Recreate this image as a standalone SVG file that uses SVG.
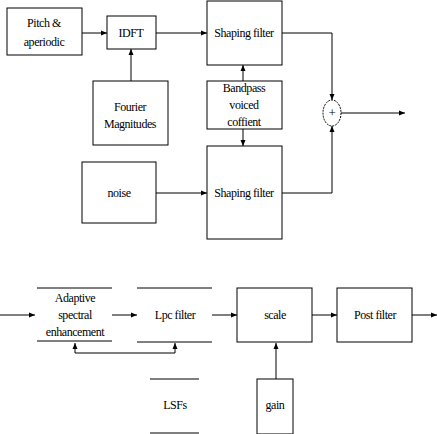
<svg xmlns="http://www.w3.org/2000/svg" width="437" height="434" viewBox="0 0 437 434">
<style>
.b{fill:#fff;stroke:#000;stroke-width:1}
.l{fill:none;stroke:#000;stroke-width:1}
text{font-family:'Liberation Serif','DejaVu Serif',serif;font-size:12px;fill:#000;text-anchor:middle;letter-spacing:-0.45px}
</style>
<defs>
<marker id="a" viewBox="0 0 6 6" refX="6" refY="3" markerWidth="6" markerHeight="6" markerUnits="userSpaceOnUse" orient="auto">
<path d="M0,0.5 L6,3 L0,5.5 Z" fill="#000"/>
</marker>
</defs>
<rect width="437" height="434" fill="#fff"/>
<g id="connectors">
<path class="l" d="M82,33 H107" marker-end="url(#a)"/>
<path class="l" d="M156,33 H207" marker-end="url(#a)"/>
<path class="l" d="M131,81 V49" marker-end="url(#a)"/>
<path class="l" d="M243,81 V65" marker-end="url(#a)"/>
<path class="l" d="M243,129 V146" marker-end="url(#a)"/>
<path class="l" d="M156,193 H207" marker-end="url(#a)"/>
<path class="l" d="M282,33 H332 V100" marker-end="url(#a)"/>
<path class="l" d="M282,193 H332 V126" marker-end="url(#a)"/>
<path class="l" d="M341,113 H405" marker-end="url(#a)"/>
<path class="l" d="M0,315 H35" marker-end="url(#a)"/>
<path class="l" d="M112,315 H137" marker-end="url(#a)"/>
<path class="l" d="M212,315 H237" marker-end="url(#a)"/>
<path class="l" d="M312,315 H337" marker-end="url(#a)"/>
<path class="l" d="M412,315 H437" marker-end="url(#a)"/>
<path class="l" d="M75,353 H175"/>
<path class="l" d="M75,353 V343" marker-end="url(#a)"/>
<path class="l" d="M175,353 V343" marker-end="url(#a)"/>
<path class="l" d="M276,379 V343" marker-end="url(#a)"/>
</g>
<g id="pitch">
<rect class="b" x="7" y="8" width="75" height="47"/>
<text x="44" y="27">Pitch &amp;</text>
<text x="44" y="46">aperiodic</text>
</g>
<g id="idft">
<rect class="b" x="107" y="16" width="49" height="33"/>
<text x="131" y="37">IDFT</text>
</g>
<g id="fourier">
<rect class="b" x="93" y="81" width="75" height="64"/>
<text x="130" y="111">Fourier</text>
<text x="130" y="128">Magnitudes</text>
</g>
<g id="shaping1">
<rect class="b" x="207" y="1" width="75" height="64"/>
<text x="244" y="37">Shaping filter</text>
</g>
<g id="bandpass">
<rect class="b" x="207" y="81" width="75" height="48"/>
<text x="244" y="92">Bandpass</text>
<text x="244" y="109">voiced</text>
<text x="244" y="126">coffient</text>
</g>
<g id="noise">
<rect class="b" x="82" y="162" width="74" height="61"/>
<text x="119" y="197">noise</text>
</g>
<g id="shaping2">
<rect class="b" x="207" y="146" width="75" height="93"/>
<text x="244" y="197">Shaping filter</text>
</g>
<g id="sum">
<ellipse cx="332" cy="113" rx="9" ry="13" fill="#fff" stroke="#000" stroke-width="1" stroke-dasharray="2,1"/>
<text x="332" y="117" style="font-size:13px">+</text>
</g>
<g id="adaptive">
<path class="l" d="M37,288 H112 M37,341 H112"/>
<text x="75" y="302">Adaptive</text>
<text x="75" y="319">spectral</text>
<text x="75" y="336">enhancement</text>
</g>
<g id="lpc">
<path class="l" d="M137,288 H212 M137,342 H212"/>
<text x="175" y="319">Lpc filter</text>
</g>
<g id="scale">
<rect class="b" x="237" y="288" width="75" height="54"/>
<text x="275" y="319">scale</text>
</g>
<g id="post">
<rect class="b" x="337" y="288" width="75" height="54"/>
<text x="375" y="319">Post filter</text>
</g>
<g id="lsfs">
<path class="l" d="M150,379 H199 M150,433 H199"/>
<text x="175" y="409">LSFs</text>
</g>
<g id="gain">
<rect class="b" x="257" y="379" width="36" height="55"/>
<text x="275" y="409">gain</text>
</g>
</svg>
